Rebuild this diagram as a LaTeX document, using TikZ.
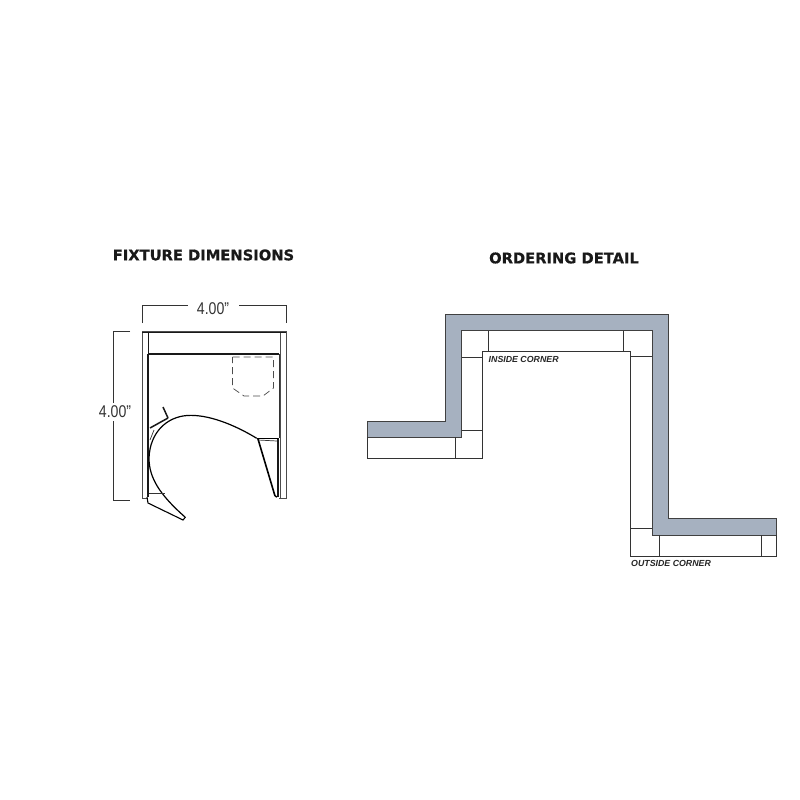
\documentclass[tikz,border=0pt]{standalone}
\usepackage{fontspec}
\setmainfont{Liberation Sans}
\newfontfamily\titlefont{DejaVu Sans}[BoldFeatures={FakeBold=0.5}]
\definecolor{wallgray}{HTML}{A6B1C0}
\definecolor{inkgray}{HTML}{333333}
\tikzset{
  dimline/.style={draw=inkgray, line width=0.8pt},
  dimlabel/.style={inner sep=0pt, text=inkgray, font=\fontsize{17}{17}\selectfont, xscale=0.83},
  title/.style={inner sep=0pt, font=\titlefont\bfseries\fontsize{14.7}{15}\selectfont, text=black!90},
  cornerlabel/.style={inner sep=0pt, anchor=west, font=\bfseries\itshape\fontsize{8.8}{9}\selectfont, text=black!85},
  thinline/.style={draw=black!80, line width=0.6pt},
  heavyline/.style={draw=black!90, line width=1.5pt}
}
\begin{document}
\begin{tikzpicture}[x=1pt, y=-1pt]
    \useasboundingbox (0,0) rectangle (800,800);
    \fill[white] (0,0) rectangle (800,800);
    \node[title] (fixturetitle) at (203.5,255) {FIXTURE DIMENSIONS};
    \node[title] (orderingtitle) at (564,258) {ORDERING DETAIL};
    % dimensions
    \draw[dimline] (142,323) -- (142,305) -- (188,305);
    \draw[dimline] (239,305) -- (286,305) -- (286,323);
    \draw[dimline] (130,331.5) -- (113,331.5) -- (113,403);
    \draw[dimline] (113,421) -- (113,500.5) -- (130,500.5);
    \node[dimlabel] (widthlabel) at (213,309) {4.00"};
    \node[dimlabel] (heightlabel) at (115,411.5) {4.00"};
    % fixture body
    \draw[draw=black!70, line width=0.7pt] (148,498) -- (142,498) -- (142,331.5) -- (286,331.5) -- (286,498) -- (279,498);
    \draw[draw=black!70, line width=0.7pt] (280,332) -- (280,498);
    \draw[draw=black!90, line width=1pt] (142,332) -- (286,332);
    \draw[draw=black!90, line width=1pt] (148,332) -- (148,354);
    \draw[heavyline] (148,354) -- (279,354);
    \draw[heavyline] (148,354) -- (148,497);
    \draw[draw=black!80, line width=0.8pt] (279,354) -- (279,438);
    \draw[heavyline] (278,438) -- (278,497);
    % dashed box
    \draw[dashed, draw=black!70, line width=0.7pt, dash pattern=on 7pt off 4pt]
      (232.5,357) -- (273.5,357) -- (273.5,388) -- (263,396) -- (244,396) -- (232.5,388) -- cycle;
    % curved door
    \draw[draw=black, line width=1.2pt]
      (256.7,438.3) .. controls (235,425) and (208,414) .. (187,415.5)
      .. controls (167,417) and (150,432) .. (149,458)
      .. controls (149,478) and (160,495) .. (185,517);
    \draw[heavyline] (150,428) -- (168,418);
    \draw[heavyline] (163,407) -- (168,418);
    \draw[draw=black, line width=1.1pt] (147,497) -- (148,503) -- (183,520) -- (185.5,517);
    \draw[draw=black!80, line width=0.7pt] (149,493) -- (165,493);
    \draw[draw=black!80, line width=0.7pt] (154,430) -- (150,440);
    % right clip
    \draw[draw=black, line width=1pt] (256.7,438.3) -- (278,438.3);
    \draw[draw=black!80, line width=0.7pt] (258,440) -- (277,441);
    \draw[draw=black, line width=1.6pt] (258,439) -- (275,496);
    \draw[draw=black, line width=1.4pt] (275,496) -- (277,497);
    % wall section
    \filldraw[fill=wallgray, draw=black!75, line width=0.7pt]
      (367,421.7) -- (445.5,421.7) -- (445.5,314) -- (668,314) -- (668,518.7) -- (776,518.7)
      -- (776,535) -- (652,535) -- (652,330.5) -- (461.5,330.5) -- (461.5,437) -- (367,437) -- cycle;
    \draw[thinline] (367,437) -- (367,458.7) -- (482.7,458.7) -- (482.7,351) -- (630.7,351) -- (630.7,556.7) -- (776,556.7) -- (776,535);
    \foreach \xa/\ya/\xb/\yb in {455/437/455/458.7, 461.5/430.5/482.7/430.5, 461.5/357/482.7/357,
        488/330.5/488/351, 623.5/330.5/623.5/351, 630.7/356.7/652/356.7, 630.7/528.5/652/528.5,
        659.7/535/659.7/556.7, 761/535/761/556.7}{
      \draw[thinline] (\xa,\ya) -- (\xb,\yb);
    }
    \node[cornerlabel] (insidelabel) at (488.5,359) {INSIDE CORNER};
    \node[cornerlabel] (outsidelabel) at (631,563.3) {OUTSIDE CORNER};
\end{tikzpicture}
\end{document}
